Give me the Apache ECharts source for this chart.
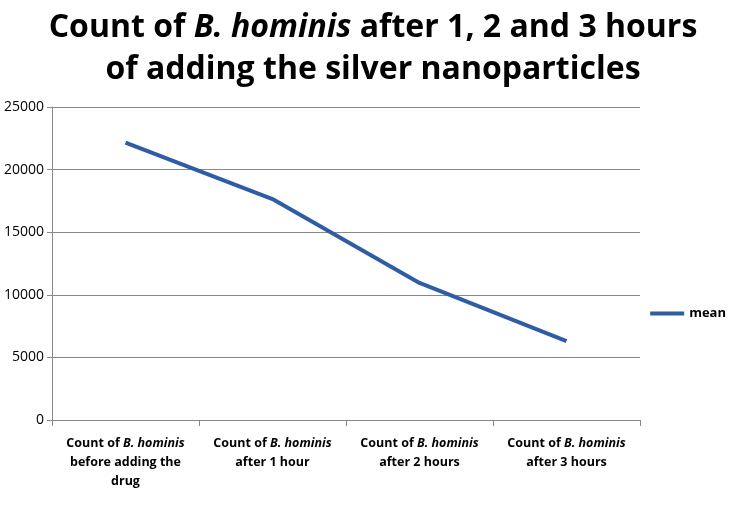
<!DOCTYPE html>
<html><head><meta charset="utf-8">
<script src="https://cdn.jsdelivr.net/npm/echarts@6/dist/echarts.min.js"></script>
<style>html,body{margin:0;padding:0;background:#fff}#c{width:735px;height:506px}</style>
</head><body><div id="c"></div>
<script>
const categories = [
  ['Count of ', 'B. hominis', '', 'before adding the', 'drug'],
  ['Count of ', 'B. hominis', '', 'after 1 hour', ''],
  ['Count of ', 'B. hominis', '', 'after 2 hours', ''],
  ['Count of ', 'B. hominis', '', 'after 3 hours', '']
];
const meanValues = [22150, 17650, 10950, 6300];
const yTicks = [0, 5000, 10000, 15000, 20000, 25000];

const chart = echarts.init(document.getElementById('c'));
const catLabels = categories.map(c => '{n|' + c[0] + '}{i|' + c[1] + '}\n{n|' + c[3] + '}' + (c[4] ? '\n{n|' + c[4] + '}' : ''));
chart.setOption({
  animation: false,
  title: {
    text: '{b|Count of }{bi|B. hominis}{b| after 1, 2 and 3 hours}\n{b|of adding the silver nanoparticles}',
    left: 368, top: 2, textAlign: 'center',
    textStyle: {
      rich: {
        b: {fontFamily: 'Open Sans', fontWeight: 'bold', fontSize: 32, color: '#000', lineHeight: 42},
        bi: {fontFamily: 'Open Sans', fontWeight: 'bold', fontStyle: 'italic', fontSize: 32, color: '#000', lineHeight: 42}
      }
    }
  },
  legend: {
    right: 4, top: 302, orient: 'vertical', itemWidth: 34, itemHeight: 4, itemGap: 5,
    icon: 'rect',
    textStyle: {fontFamily: 'Open Sans', fontWeight: 'bold', fontSize: 13, color: '#000'}
  },
  grid: {left: 52, right: 95, top: 107, bottom: 86, containLabel: false},
  xAxis: {
    type: 'category', data: catLabels, boundaryGap: true,
    axisLine: {lineStyle: {color: '#888'}},
    axisTick: {show: true, alignWithLabel: false, length: 6, lineStyle: {color: '#888'}},
    axisLabel: {
      interval: 0, margin: 14, lineHeight: 19, align: 'center',
      rich: {
        n: {fontFamily: 'Open Sans', fontWeight: 'bold', fontSize: 12.5, color: '#000', lineHeight: 19},
        i: {fontFamily: 'Open Sans', fontWeight: 'bold', fontStyle: 'italic', fontSize: 12.5, color: '#000', lineHeight: 19}
      }
    }
  },
  yAxis: {
    type: 'value', min: yTicks[0], max: yTicks[yTicks.length - 1], interval: 5000,
    axisLine: {show: true, lineStyle: {color: '#888'}},
    axisTick: {show: true, length: 5, lineStyle: {color: '#888'}},
    splitLine: {lineStyle: {color: '#888'}},
    axisLabel: {fontFamily: 'Open Sans', fontSize: 14, color: '#000', margin: 8, formatter: v => String(v)}
  },
  series: [{
    name: 'mean', type: 'line', data: meanValues, symbol: 'none',
    lineStyle: {color: '#2e5da5', width: 4}, itemStyle: {color: '#2e5da5'}
  }]
});
</script></body></html>
